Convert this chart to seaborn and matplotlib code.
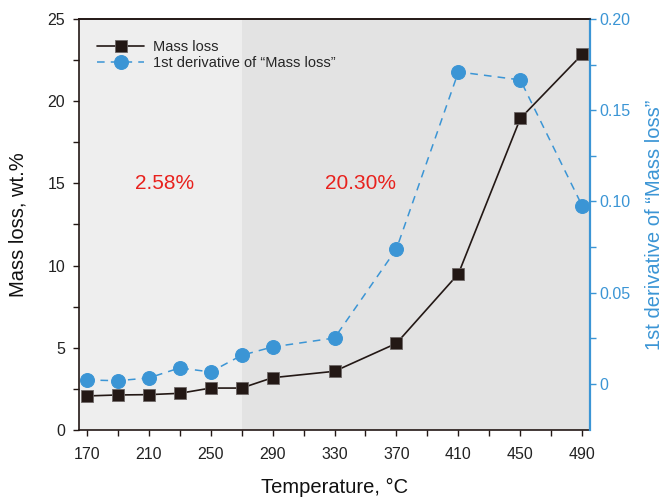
import matplotlib
matplotlib.use("Agg")
import matplotlib.pyplot as plt
import seaborn as sns
import pandas as pd
from matplotlib.ticker import MultipleLocator, FixedLocator, FixedFormatter

# Thermogravimetric data
temperature = [170, 190, 210, 230, 250, 270, 290, 330, 370, 410, 450, 490]
mass_loss = [2.07, 2.13, 2.15, 2.23, 2.55, 2.55, 3.18, 3.57, 5.27, 9.5, 18.95, 22.85]
derivative = [0.0022, 0.0018, 0.0033, 0.0088, 0.0066, 0.0157, 0.0203, 0.0252, 0.074, 0.171, 0.1666, 0.0975]

x_tick_labels = ["170", "", "210", "", "250", "", "290", "", "330", "", "370", "", "410", "", "450", "", "490"]
stage_labels = ["2.58%", "20.30%"]
stage_x = [220, 347]
stage_y = [15, 15]

df = pd.DataFrame({"T": temperature, "mass": mass_loss, "deriv": derivative})

sns.set_theme(style="ticks")
plt.rcParams["font.family"] = ["Liberation Sans", "DejaVu Sans"]

black = "#231815"
blue = "#3b95d5"

fig = plt.figure(figsize=(6.67, 4.99), dpi=100)
ax = fig.add_axes([0.1184, 0.1383, 0.7662, 0.8237])
ax2 = ax.twinx()

# Shaded stages
ax.axvspan(165, 270, color="#eeeeee", zorder=0, lw=0)
ax.axvspan(270, 495, color="#e3e3e3", zorder=0, lw=0)

sns.lineplot(data=df, x="T", y="mass", ax=ax, color=black, lw=1.2,
             marker="s", markersize=9, markeredgecolor="#6d6766",
             markeredgewidth=0.6, label="Mass loss", legend=False, zorder=3)
sns.lineplot(data=df, x="T", y="deriv", ax=ax2, color=blue, lw=1.1,
             linestyle=(0, (5, 4)), marker="o", markersize=10,
             markeredgecolor=blue, label="1st derivative of \u201cMass loss\u201d",
             legend=False, zorder=3)

ax.set_xlim(165, 495)
ax.set_ylim(0, 25)
ax2.set_ylim(-0.0252, 0.20)

ax.xaxis.set_major_locator(FixedLocator(list(range(170, 491, 20))))
ax.xaxis.set_major_formatter(FixedFormatter(x_tick_labels))
ax.yaxis.set_major_locator(MultipleLocator(5))
ax.yaxis.set_minor_locator(MultipleLocator(2.5))
ax2.yaxis.set_major_locator(FixedLocator([0, 0.05, 0.10, 0.15, 0.20]))
ax2.yaxis.set_major_formatter(FixedFormatter(["0", "0.05", "0.10", "0.15", "0.20"]))
ax2.yaxis.set_minor_locator(FixedLocator([0.025, 0.075, 0.125, 0.175]))

for a in (ax, ax2):
    a.tick_params(axis="both", which="both", direction="out", length=4, width=1)
    a.tick_params(axis="both", which="major", labelsize=11.5)
ax.tick_params(axis="x", pad=8, colors=black, labelcolor="#222222")
ax.tick_params(axis="y", which="both", colors=black, labelcolor="#222222", pad=6)
ax2.tick_params(axis="y", which="both", colors=blue, labelcolor=blue, pad=3)

for s in ("left", "bottom", "top"):
    ax.spines[s].set_color(black)
    ax.spines[s].set_linewidth(1.2)
ax2.spines["right"].set_color(blue)
ax2.spines["right"].set_linewidth(1.6)
ax2.spines["left"].set_visible(False)
ax2.spines["top"].set_color(black)
ax2.spines["top"].set_linewidth(1.2)
ax2.spines["bottom"].set_visible(False)

ax.set_xlabel("Temperature, \u00b0C", fontsize=14.5, labelpad=12, color="#111111")
ax.set_ylabel("Mass loss, wt.%", fontsize=14.5, labelpad=14, color="#111111")
ax2.set_ylabel("1st derivative of \u201cMass loss\u201d", fontsize=14.5, color=blue, labelpad=10)

for t, x, y in zip(stage_labels, stage_x, stage_y):
    ax.text(x, y, t, color="#e8211d", fontsize=15, ha="center", va="center")

h1, l1 = ax.get_legend_handles_labels()
h2, l2 = ax2.get_legend_handles_labels()
ax2.legend(h1 + h2, l1 + l2, loc="upper left", bbox_to_anchor=(0.01, 0.98),
           frameon=False, fontsize=10.5, handlelength=3.2, labelspacing=0.1,
           handletextpad=0.6)

fig.savefig("out.png", dpi=100)
